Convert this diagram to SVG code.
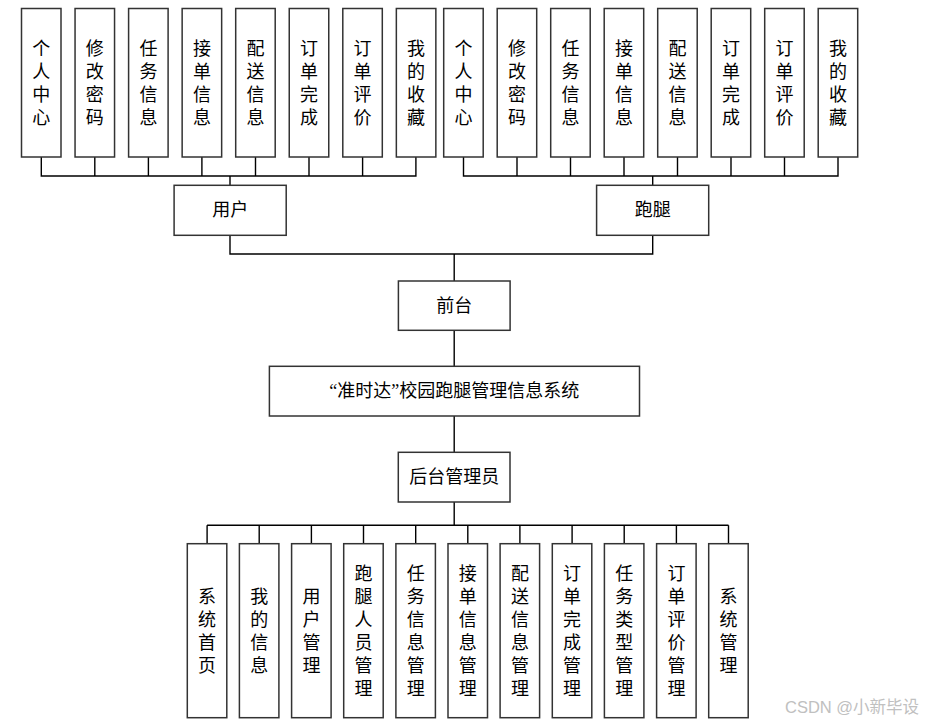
<svg xmlns="http://www.w3.org/2000/svg" width="925" height="722" viewBox="0 0 925 722">
<style>
.box{fill:#fff;stroke:#333;stroke-width:1.5}
.ln{fill:none;stroke:#000;stroke-width:1.4}
.t{font-family:"Liberation Serif","Noto Sans CJK SC",serif;font-size:18px;fill:#000;text-anchor:middle;dominant-baseline:central}
.wm{font-family:"Liberation Sans","Noto Sans CJK SC",sans-serif;font-size:16.5px;fill:#c0c0c0}
</style>
<rect width="925" height="722" fill="#fff"/>
<g id="connectors">
<path class="ln" d="M41.3 157V176H415.9V157M94.8 157V176M148.4 157V176M201.9 157V176M255.5 157V176M309 157V176M362.6 157V176M230 176V185.3"/>
<path class="ln" d="M463.5 157V176H838V157M517 157V176M570.5 157V176M624 157V176M677.5 157V176M731 157V176M784.5 157V176M652.7 176V185.3"/>
<path class="ln" d="M230 235.3V254H652.7V235.3M454.2 254V281M454.2 330.3V366.3M454.2 416V452.3M454.2 502V525.3"/>
<path class="ln" d="M207.1 525.3H728.5M207.1 525.3V543.7M259.2 525.3V543.7M311.4 525.3V543.7M363.5 525.3V543.7M415.7 525.3V543.7M467.8 525.3V543.7M519.9 525.3V543.7M572.1 525.3V543.7M624.2 525.3V543.7M676.4 525.3V543.7M728.5 525.3V543.7"/>
</g>
<g id="u1"><rect class="box" x="21.5" y="8.5" width="39.5" height="148.5"/><text class="t"><tspan x="41.3" y="48.5">个</tspan><tspan x="41.3" y="71.5">人</tspan><tspan x="41.3" y="94.5">中</tspan><tspan x="41.3" y="117.5">心</tspan></text></g>
<g id="u2"><rect class="box" x="75.05" y="8.5" width="39.5" height="148.5"/><text class="t"><tspan x="94.8" y="48.5">修</tspan><tspan x="94.8" y="71.5">改</tspan><tspan x="94.8" y="94.5">密</tspan><tspan x="94.8" y="117.5">码</tspan></text></g>
<g id="u3"><rect class="box" x="128.6" y="8.5" width="39.5" height="148.5"/><text class="t"><tspan x="148.4" y="48.5">任</tspan><tspan x="148.4" y="71.5">务</tspan><tspan x="148.4" y="94.5">信</tspan><tspan x="148.4" y="117.5">息</tspan></text></g>
<g id="u4"><rect class="box" x="182.15" y="8.5" width="39.5" height="148.5"/><text class="t"><tspan x="201.9" y="48.5">接</tspan><tspan x="201.9" y="71.5">单</tspan><tspan x="201.9" y="94.5">信</tspan><tspan x="201.9" y="117.5">息</tspan></text></g>
<g id="u5"><rect class="box" x="235.7" y="8.5" width="39.5" height="148.5"/><text class="t"><tspan x="255.5" y="48.5">配</tspan><tspan x="255.5" y="71.5">送</tspan><tspan x="255.5" y="94.5">信</tspan><tspan x="255.5" y="117.5">息</tspan></text></g>
<g id="u6"><rect class="box" x="289.25" y="8.5" width="39.5" height="148.5"/><text class="t"><tspan x="309" y="48.5">订</tspan><tspan x="309" y="71.5">单</tspan><tspan x="309" y="94.5">完</tspan><tspan x="309" y="117.5">成</tspan></text></g>
<g id="u7"><rect class="box" x="342.8" y="8.5" width="39.5" height="148.5"/><text class="t"><tspan x="362.6" y="48.5">订</tspan><tspan x="362.6" y="71.5">单</tspan><tspan x="362.6" y="94.5">评</tspan><tspan x="362.6" y="117.5">价</tspan></text></g>
<g id="u8"><rect class="box" x="396.35" y="8.5" width="39.5" height="148.5"/><text class="t"><tspan x="416.1" y="48.5">我</tspan><tspan x="416.1" y="71.5">的</tspan><tspan x="416.1" y="94.5">收</tspan><tspan x="416.1" y="117.5">藏</tspan></text></g>
<g id="r1"><rect class="box" x="443.7" y="8.5" width="39.5" height="148.5"/><text class="t"><tspan x="463.5" y="48.5">个</tspan><tspan x="463.5" y="71.5">人</tspan><tspan x="463.5" y="94.5">中</tspan><tspan x="463.5" y="117.5">心</tspan></text></g>
<g id="r2"><rect class="box" x="497.2" y="8.5" width="39.5" height="148.5"/><text class="t"><tspan x="517" y="48.5">修</tspan><tspan x="517" y="71.5">改</tspan><tspan x="517" y="94.5">密</tspan><tspan x="517" y="117.5">码</tspan></text></g>
<g id="r3"><rect class="box" x="550.7" y="8.5" width="39.5" height="148.5"/><text class="t"><tspan x="570.5" y="48.5">任</tspan><tspan x="570.5" y="71.5">务</tspan><tspan x="570.5" y="94.5">信</tspan><tspan x="570.5" y="117.5">息</tspan></text></g>
<g id="r4"><rect class="box" x="604.2" y="8.5" width="39.5" height="148.5"/><text class="t"><tspan x="624" y="48.5">接</tspan><tspan x="624" y="71.5">单</tspan><tspan x="624" y="94.5">信</tspan><tspan x="624" y="117.5">息</tspan></text></g>
<g id="r5"><rect class="box" x="657.7" y="8.5" width="39.5" height="148.5"/><text class="t"><tspan x="677.5" y="48.5">配</tspan><tspan x="677.5" y="71.5">送</tspan><tspan x="677.5" y="94.5">信</tspan><tspan x="677.5" y="117.5">息</tspan></text></g>
<g id="r6"><rect class="box" x="711.2" y="8.5" width="39.5" height="148.5"/><text class="t"><tspan x="731" y="48.5">订</tspan><tspan x="731" y="71.5">单</tspan><tspan x="731" y="94.5">完</tspan><tspan x="731" y="117.5">成</tspan></text></g>
<g id="r7"><rect class="box" x="764.7" y="8.5" width="39.5" height="148.5"/><text class="t"><tspan x="784.5" y="48.5">订</tspan><tspan x="784.5" y="71.5">单</tspan><tspan x="784.5" y="94.5">评</tspan><tspan x="784.5" y="117.5">价</tspan></text></g>
<g id="r8"><rect class="box" x="818.2" y="8.5" width="39.5" height="148.5"/><text class="t"><tspan x="838" y="48.5">我</tspan><tspan x="838" y="71.5">的</tspan><tspan x="838" y="94.5">收</tspan><tspan x="838" y="117.5">藏</tspan></text></g>
<g id="user"><rect class="box" x="174.1" y="185.3" width="112.1" height="50"/><text class="t" x="230.2" y="210.3">用户</text></g>
<g id="runner"><rect class="box" x="596.6" y="185.3" width="112.1" height="50"/><text class="t" x="652.7" y="210.3">跑腿</text></g>
<g id="front"><rect class="box" x="398.4" y="281" width="111.7" height="49.3"/><text class="t" x="454.2" y="305.7">前台</text></g>
<g id="system"><rect class="box" x="269.4" y="366.3" width="370.1" height="49.7"/><text class="t" x="454.2" y="391.2">“准时达”校园跑腿管理信息系统</text></g>
<g id="admin"><rect class="box" x="398.3" y="452.3" width="111.7" height="49.7"/><text class="t" x="454.2" y="477.2">后台管理员</text></g>
<g id="a1"><rect class="box" x="187.3" y="543.7" width="39.5" height="174"/><text class="t"><tspan x="207.1" y="596.5">系</tspan><tspan x="207.1" y="619.5">统</tspan><tspan x="207.1" y="642.5">首</tspan><tspan x="207.1" y="665.5">页</tspan></text></g>
<g id="a2"><rect class="box" x="239.4" y="543.7" width="39.5" height="174"/><text class="t"><tspan x="259.2" y="596.5">我</tspan><tspan x="259.2" y="619.5">的</tspan><tspan x="259.2" y="642.5">信</tspan><tspan x="259.2" y="665.5">息</tspan></text></g>
<g id="a3"><rect class="box" x="291.6" y="543.7" width="39.5" height="174"/><text class="t"><tspan x="311.4" y="596.5">用</tspan><tspan x="311.4" y="619.5">户</tspan><tspan x="311.4" y="642.5">管</tspan><tspan x="311.4" y="665.5">理</tspan></text></g>
<g id="a4"><rect class="box" x="343.7" y="543.7" width="39.5" height="174"/><text class="t"><tspan x="363.5" y="573.5">跑</tspan><tspan x="363.5" y="596.5">腿</tspan><tspan x="363.5" y="619.5">人</tspan><tspan x="363.5" y="642.5">员</tspan><tspan x="363.5" y="665.5">管</tspan><tspan x="363.5" y="688.5">理</tspan></text></g>
<g id="a5"><rect class="box" x="395.9" y="543.7" width="39.5" height="174"/><text class="t"><tspan x="415.7" y="573.5">任</tspan><tspan x="415.7" y="596.5">务</tspan><tspan x="415.7" y="619.5">信</tspan><tspan x="415.7" y="642.5">息</tspan><tspan x="415.7" y="665.5">管</tspan><tspan x="415.7" y="688.5">理</tspan></text></g>
<g id="a6"><rect class="box" x="448" y="543.7" width="39.5" height="174"/><text class="t"><tspan x="467.8" y="573.5">接</tspan><tspan x="467.8" y="596.5">单</tspan><tspan x="467.8" y="619.5">信</tspan><tspan x="467.8" y="642.5">息</tspan><tspan x="467.8" y="665.5">管</tspan><tspan x="467.8" y="688.5">理</tspan></text></g>
<g id="a7"><rect class="box" x="500.1" y="543.7" width="39.5" height="174"/><text class="t"><tspan x="519.9" y="573.5">配</tspan><tspan x="519.9" y="596.5">送</tspan><tspan x="519.9" y="619.5">信</tspan><tspan x="519.9" y="642.5">息</tspan><tspan x="519.9" y="665.5">管</tspan><tspan x="519.9" y="688.5">理</tspan></text></g>
<g id="a8"><rect class="box" x="552.3" y="543.7" width="39.5" height="174"/><text class="t"><tspan x="572.1" y="573.5">订</tspan><tspan x="572.1" y="596.5">单</tspan><tspan x="572.1" y="619.5">完</tspan><tspan x="572.1" y="642.5">成</tspan><tspan x="572.1" y="665.5">管</tspan><tspan x="572.1" y="688.5">理</tspan></text></g>
<g id="a9"><rect class="box" x="604.4" y="543.7" width="39.5" height="174"/><text class="t"><tspan x="624.2" y="573.5">任</tspan><tspan x="624.2" y="596.5">务</tspan><tspan x="624.2" y="619.5">类</tspan><tspan x="624.2" y="642.5">型</tspan><tspan x="624.2" y="665.5">管</tspan><tspan x="624.2" y="688.5">理</tspan></text></g>
<g id="a10"><rect class="box" x="656.6" y="543.7" width="39.5" height="174"/><text class="t"><tspan x="676.4" y="573.5">订</tspan><tspan x="676.4" y="596.5">单</tspan><tspan x="676.4" y="619.5">评</tspan><tspan x="676.4" y="642.5">价</tspan><tspan x="676.4" y="665.5">管</tspan><tspan x="676.4" y="688.5">理</tspan></text></g>
<g id="a11"><rect class="box" x="708.7" y="543.7" width="39.5" height="174"/><text class="t"><tspan x="728.5" y="596.5">系</tspan><tspan x="728.5" y="619.5">统</tspan><tspan x="728.5" y="642.5">管</tspan><tspan x="728.5" y="665.5">理</tspan></text></g>
<text class="wm" x="785" y="712.5">CSDN @小新毕设</text>
</svg>
